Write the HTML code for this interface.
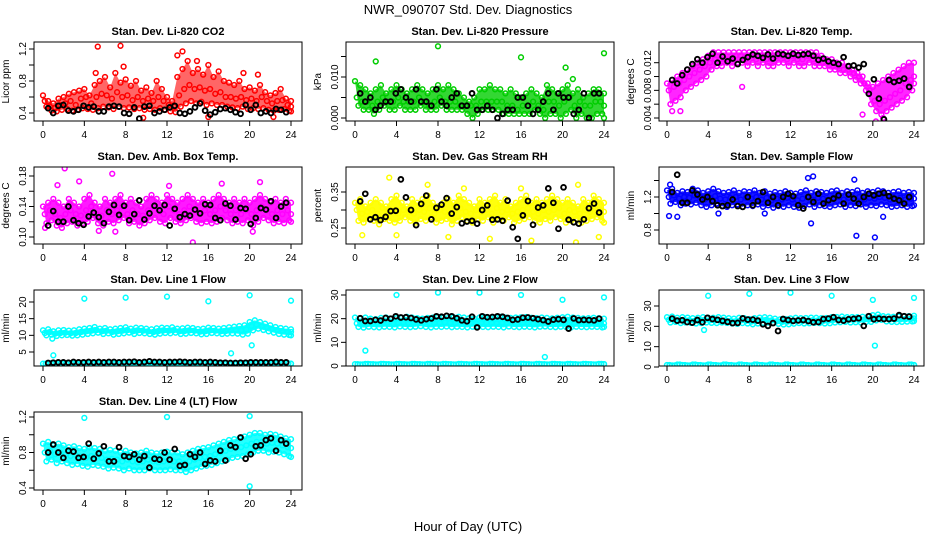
<!DOCTYPE html>
<html><head><meta charset="utf-8"><style>
html,body{margin:0;padding:0;background:#fff}
svg{display:block;font-family:"Liberation Sans",sans-serif}
</style></head><body>
<svg id="chart" width="936" height="540" viewBox="0 0 936 540" xmlns="http://www.w3.org/2000/svg">
<rect width="936" height="540" fill="#fff"/>
<text x="468" y="14" text-anchor="middle" font-size="13">NWR_090707  Std. Dev. Diagnostics</text>
<text x="468" y="531" text-anchor="middle" font-size="13">Hour of Day (UTC)</text>
</svg>
<script>
const xTicks=[0,4,8,12,16,20,24];
const co2Hi=[0.62,0.55,0.52,0.58,0.6,0.64,0.66,0.68,0.7,0.62,0.75,0.8,0.85,0.72,0.9,0.78,0.82,0.74,0.8,0.68,0.72,0.65,0.8,0.7,0.6,0.55,0.85,0.95,1.05,0.9,0.95,0.88,1.0,0.85,0.92,0.8,0.78,0.75,0.8,0.7,0.72,0.68,0.75,0.66,0.62,0.65,0.7,0.58,0.55];
const co2Mid=[0.55,0.48,0.46,0.5,0.52,0.55,0.5,0.58,0.6,0.52,0.6,0.64,0.62,0.58,0.66,0.6,0.62,0.56,0.6,0.55,0.58,0.55,0.6,0.55,0.5,0.48,0.62,0.7,0.75,0.7,0.72,0.68,0.7,0.64,0.66,0.6,0.6,0.58,0.6,0.56,0.58,0.55,0.6,0.55,0.52,0.55,0.56,0.5,0.48];
const co2Lo=[0.48,0.43,0.42,0.44,0.45,0.43,0.44,0.46,0.45,0.44,0.46,0.48,0.47,0.45,0.48,0.46,0.47,0.45,0.46,0.44,0.45,0.44,0.46,0.44,0.42,0.41,0.48,0.52,0.55,0.52,0.54,0.5,0.52,0.5,0.5,0.48,0.47,0.46,0.48,0.45,0.46,0.45,0.46,0.44,0.43,0.44,0.45,0.43,0.42];
const co2OutX=[5.3,7.5,13,13.5,14.9,7.8,5.1,16,22.3,9.7,19.4,20.8];
const co2OutY=[1.23,1.24,1.12,1.17,1.05,0.98,0.9,0.35,0.35,0.34,0.9,0.88];
const co2Blk=[0.46,0.4,0.49,0.5,0.43,0.42,0.44,0.49,0.47,0.48,0.42,0.42,0.48,0.49,0.48,0.4,0.39,0.47,0.33,0.48,0.49,0.4,0.42,0.44,0.47,0.49,0.4,0.39,0.42,0.47,0.52,0.43,0.38,0.41,0.45,0.46,0.44,0.41,0.39,0.5,0.44,0.5,0.4,0.42,0.4,0.45,0.44,0.41];

const prsHi=[0.009,0.008,0.007,0.006,0.007,0.008,0.006,0.007,0.008,0.007,0.006,0.007,0.008,0.007,0.006,0.007,0.008,0.007,0.008,0.007,0.006,0.005,0.004,0.005,0.007,0.007,0.008,0.007,0.007,0.006,0.007,0.006,0.005,0.006,0.007,0.006,0.005,0.008,0.007,0.006,0.007,0.008,0.006,0.007,0.005,0.006,0.007,0.007,0.006];
const prsMid=[0.005,0.004,0.004,0.003,0.004,0.005,0.004,0.004,0.005,0.004,0.004,0.004,0.005,0.004,0.003,0.004,0.005,0.004,0.004,0.004,0.003,0.003,0.003,0.003,0.004,0.004,0.004,0.004,0.004,0.003,0.003,0.002,0.003,0.003,0.004,0.003,0.002,0.004,0.004,0.003,0.004,0.005,0.003,0.004,0.003,0.003,0.004,0.004,0.003];
const prsLo=[0.003,0.002,0.002,0.001,0.002,0.003,0.002,0.002,0.003,0.002,0.002,0.002,0.003,0.002,0.002,0.002,0.003,0.002,0.002,0.002,0.002,0.001,0,0.001,0.002,0.002,0.002,0.002,0.001,0.001,0.001,0.001,0.001,0.001,0.002,0.001,0,0.001,0.001,0,0.001,0.002,0,0.001,0,0,0.001,0.001,0];
const prsOutX=[2,8,16,20.3,21,24];
const prsOutY=[0.0138,0.0175,0.0148,0.0123,0.0095,0.0158];
const prsBlk=[0.006,0.004,0.005,0.002,0.003,0.004,0.004,0.006,0.007,0.005,0.004,0.007,0.004,0.004,0.003,0.007,0.004,0.003,0.005,0.006,0.003,0.003,0.006,0.002,0.002,0.003,0.002,0,0.001,0.002,0.002,0.005,0.005,0.003,0.001,0.002,0.004,0.006,0.002,0.006,0.005,0.005,0.001,0.002,0.006,0,0.006,0.006];

const tmpHi=[0.009,0.0095,0.01,0.0105,0.011,0.0115,0.012,0.0125,0.013,0.0135,0.0135,0.0135,0.0135,0.0135,0.0135,0.0135,0.0135,0.0135,0.0135,0.0135,0.0135,0.0135,0.0135,0.0135,0.0135,0.0135,0.0135,0.0135,0.0135,0.0135,0.013,0.0125,0.0125,0.012,0.012,0.0115,0.011,0.0105,0.01,0.009,0.0085,0.009,0.0095,0.01,0.0105,0.011,0.0115,0.012,0.012];
const tmpMid=[0.008,0.0085,0.009,0.0095,0.01,0.0105,0.011,0.0115,0.012,0.0125,0.0125,0.0125,0.0125,0.013,0.013,0.0125,0.013,0.0125,0.013,0.0125,0.0125,0.013,0.013,0.0125,0.013,0.0125,0.0125,0.013,0.0125,0.0125,0.012,0.012,0.0115,0.0115,0.011,0.011,0.0105,0.01,0.009,0.008,0.0065,0.006,0.0065,0.007,0.0075,0.008,0.009,0.0095,0.01];
const tmpLo=[0.006,0.0065,0.007,0.008,0.0085,0.009,0.0095,0.01,0.011,0.0115,0.0115,0.012,0.0115,0.012,0.012,0.0115,0.012,0.0115,0.012,0.0115,0.0115,0.012,0.012,0.0115,0.012,0.0115,0.0115,0.012,0.0115,0.0115,0.0115,0.011,0.011,0.0105,0.0105,0.01,0.0095,0.009,0.008,0.006,0.005,0.0045,0.005,0.0055,0.006,0.0065,0.007,0.008,0.009];
const tmpOutX=[0.5,1.3,7.3,19,20.3,21];
const tmpOutY=[0.005,0.005,0.0085,0.0045,0.0035,0.004];
const tmpBlk=[0.0095,0.009,0.0102,0.011,0.0118,0.0125,0.012,0.0128,0.0133,0.012,0.0129,0.0122,0.0126,0.0118,0.0124,0.0128,0.0132,0.013,0.0127,0.0132,0.0126,0.0133,0.0132,0.013,0.0133,0.0131,0.0132,0.0133,0.013,0.0124,0.0126,0.0122,0.012,0.0118,0.0128,0.0115,0.0116,0.0113,0.0118,0.0075,0.0096,0.0068,0.0038,0.0095,0.0092,0.0094,0.0097,0.0085];

const ambHi=[0.14,0.145,0.15,0.145,0.14,0.15,0.145,0.14,0.15,0.155,0.145,0.14,0.15,0.145,0.15,0.155,0.145,0.15,0.145,0.14,0.15,0.155,0.15,0.145,0.155,0.15,0.145,0.15,0.155,0.15,0.145,0.15,0.145,0.15,0.155,0.15,0.145,0.15,0.145,0.15,0.145,0.15,0.155,0.15,0.145,0.15,0.145,0.15,0.145];
const ambMid=[0.13,0.135,0.13,0.125,0.13,0.135,0.13,0.128,0.135,0.14,0.13,0.128,0.135,0.13,0.135,0.14,0.13,0.135,0.13,0.128,0.135,0.14,0.135,0.13,0.14,0.135,0.13,0.135,0.14,0.135,0.13,0.135,0.13,0.135,0.14,0.135,0.13,0.135,0.13,0.135,0.13,0.135,0.14,0.135,0.13,0.135,0.13,0.135,0.13];
const ambLo=[0.118,0.122,0.115,0.112,0.118,0.12,0.115,0.118,0.12,0.125,0.118,0.115,0.12,0.118,0.122,0.125,0.118,0.12,0.115,0.118,0.122,0.125,0.12,0.118,0.125,0.12,0.118,0.122,0.125,0.12,0.118,0.12,0.118,0.12,0.125,0.122,0.118,0.12,0.118,0.122,0.115,0.12,0.125,0.122,0.118,0.12,0.118,0.122,0.12];
const ambOutX=[2.1,6.7,3.5,14.5,0.2,5.4,7,20.3,21,17.3,1.4,12.2];
const ambOutY=[0.19,0.183,0.173,0.093,0.112,0.108,0.107,0.107,0.172,0.17,0.168,0.167];
const ambBlk=[0.115,0.134,0.12,0.12,0.14,0.122,0.118,0.116,0.127,0.132,0.126,0.118,0.133,0.142,0.129,0.141,0.122,0.13,0.148,0.123,0.131,0.141,0.135,0.142,0.115,0.137,0.126,0.13,0.128,0.136,0.131,0.143,0.142,0.125,0.122,0.144,0.141,0.123,0.138,0.137,0.117,0.125,0.138,0.136,0.147,0.125,0.14,0.145];

const rhHi=[0.32,0.33,0.31,0.32,0.33,0.32,0.31,0.33,0.34,0.32,0.31,0.33,0.32,0.33,0.34,0.32,0.31,0.32,0.33,0.32,0.34,0.33,0.32,0.31,0.33,0.32,0.33,0.34,0.32,0.33,0.31,0.32,0.33,0.34,0.32,0.33,0.32,0.33,0.34,0.33,0.32,0.33,0.32,0.31,0.33,0.32,0.34,0.33,0.32];
const rhMid=[0.3,0.29,0.295,0.3,0.29,0.305,0.295,0.3,0.29,0.3,0.295,0.29,0.3,0.295,0.305,0.29,0.3,0.295,0.29,0.3,0.305,0.295,0.29,0.3,0.295,0.3,0.29,0.305,0.295,0.3,0.29,0.295,0.3,0.305,0.295,0.29,0.3,0.295,0.3,0.305,0.29,0.3,0.295,0.29,0.3,0.295,0.305,0.3,0.295];
const rhLo=[0.27,0.265,0.275,0.27,0.26,0.275,0.27,0.265,0.27,0.28,0.27,0.265,0.275,0.27,0.28,0.265,0.27,0.275,0.26,0.27,0.28,0.27,0.265,0.275,0.27,0.28,0.265,0.275,0.27,0.28,0.265,0.27,0.275,0.28,0.27,0.265,0.275,0.27,0.28,0.275,0.265,0.27,0.275,0.265,0.27,0.275,0.28,0.27,0.265];
const rhOutX=[3.3,7,10.5,16,21.5,0.7,4,9,13,17,21.3,23.5];
const rhOutY=[0.39,0.37,0.36,0.36,0.37,0.23,0.23,0.225,0.22,0.215,0.21,0.225];
const rhBlk=[0.324,0.345,0.274,0.28,0.272,0.281,0.297,0.298,0.385,0.335,0.3,0.258,0.317,0.34,0.274,0.306,0.315,0.333,0.29,0.308,0.263,0.268,0.27,0.262,0.3,0.313,0.273,0.274,0.27,0.326,0.252,0.22,0.285,0.325,0.259,0.307,0.313,0.36,0.32,0.248,0.363,0.273,0.266,0.262,0.274,0.305,0.318,0.293];

const sfHi=[1.28,1.3,1.25,1.27,1.26,1.3,1.28,1.25,1.27,1.3,1.27,1.25,1.26,1.28,1.25,1.27,1.26,1.28,1.25,1.27,1.24,1.26,1.25,1.27,1.25,1.24,1.26,1.28,1.25,1.27,1.26,1.25,1.27,1.28,1.25,1.27,1.26,1.28,1.25,1.27,1.26,1.28,1.27,1.25,1.26,1.27,1.25,1.26,1.25];
const sfMid=[1.2,1.22,1.18,1.2,1.19,1.22,1.2,1.17,1.19,1.21,1.18,1.17,1.19,1.2,1.17,1.19,1.18,1.2,1.17,1.19,1.16,1.18,1.17,1.19,1.17,1.16,1.18,1.2,1.17,1.19,1.18,1.17,1.19,1.2,1.17,1.19,1.18,1.2,1.17,1.19,1.18,1.2,1.19,1.17,1.18,1.19,1.17,1.18,1.18];
const sfLo=[1.12,1.14,1.1,1.12,1.11,1.13,1.1,1.08,1.1,1.12,1.09,1.08,1.1,1.11,1.08,1.1,1.09,1.11,1.08,1.1,1.07,1.09,1.08,1.1,1.08,1.07,1.09,1.11,1.08,1.1,1.09,1.08,1.1,1.11,1.08,1.1,1.09,1.11,1.08,1.1,1.09,1.11,1.1,1.08,1.09,1.1,1.08,1.09,1.1];
const sfOutX=[0.2,1,5,9.5,14,18.4,20.2,21,14.2,13.7,18.2,0.3];
const sfOutY=[0.97,0.96,1.0,1.0,0.88,0.73,0.71,0.96,1.45,1.43,1.41,1.35];
const sfBlk=[1.26,1.47,1.13,1.13,1.28,1.23,1.17,1.2,1.15,1.1,1.09,1.1,1.17,1.09,1.08,1.2,1.1,1.15,1.26,1.13,1.2,1.1,1.2,1.24,1.21,1.1,1.06,1.2,1.14,1.24,1.12,1.16,1.18,1.22,1.12,1.23,1.18,1.12,1.2,1.24,1.22,1.24,1.25,1.21,1.18,1.16,1.12,1.2];

const l1Hi=[11.5,11.8,11.2,11.5,11.6,11.4,11.5,11.8,12,12.2,12.5,12,12.2,11.8,12,12.2,12.4,12,12.3,12.2,12,11.8,12.1,12.3,12.2,12.4,12,12.1,12.3,12.2,11.9,12,12.3,12.2,12,12.2,12.4,12.6,12.8,13,14,14.5,14,13.5,13,12.5,12.2,12,11.8];
const l1Mid=[10.7,11,10.5,10.7,10.8,10.6,10.7,11,11.2,11.4,11.6,11.2,11.4,11,11.2,11.4,11.6,11.2,11.5,11.4,11.2,11,11.3,11.5,11.4,11.6,11.2,11.3,11.5,11.4,11.1,11.2,11.5,11.4,11.2,11.3,11.5,11.6,11.5,11.8,12.8,13.2,12.8,12.4,12,11.6,11.3,11.1,11];
const l1Lo=[10,10.2,9.8,10,10.1,9.9,10,10.2,10.4,10.6,10.8,10.4,10.6,10.2,10.4,10.6,10.8,10.4,10.7,10.6,10.4,10.2,10.5,10.7,10.6,10.8,10.4,10.5,10.7,10.6,10.3,10.4,10.7,10.6,10.4,10.5,10.6,10.5,10.2,10.5,11.5,12,11.6,11.2,10.8,10.4,10.2,10.1,10];
const l1Base=[1.5,1.6,1.5,1.6,1.5,1.6,1.5,1.6,1.5,1.6,1.5,1.6,1.5,1.6,1.5,1.6,1.5,1.6,1.5,1.6,1.5,1.6,1.5,1.6,1.5,1.6,1.5,1.6,1.5,1.6,1.5,1.6,1.5,1.6,1.5,1.6,1.5,1.6,1.5,1.6,1.5,1.6,1.5,1.6,1.5,1.6,1.5,1.6,1.5];
const l1OutX=[4,8,12,16,20,24,1,18.2,20.2,0.9];
const l1OutY=[21,21.3,21.6,20.2,22,20.4,4,4.6,7,9];
const l1Blk=[1.7,1.8,1.9,1.9,1.8,2,1.9,1.9,2,1.9,2,1.9,2,2,1.9,2,2,2.1,1.9,2,2.2,2,2,1.9,2,2,2.1,2,1.9,2,2,1.9,2,1.9,1.8,1.8,1.7,1.7,1.8,1.8,1.9,1.9,1.9,1.9,1.9,2,1.9,1.9];

const l2Hi=[20.5,20,20.5,20,19.8,20.3,20.5,20,20.2,20.4,20.8,20.5,20.2,20,20.3,20.5,20.7,20.5,20.3,20.6,20.8,20.5,20.2,20,20.5,20.7,20.4,20.6,20.8,20.5,20.3,20.5,20.6,20.7,20.4,20.2,20.5,20.3,20.1,20.4,20.6,20.8,20.5,20.3,20.1,20.2,20.4,20.2,20];
const l2Mid=[18,18.2,17.8,18,18.3,18,18.1,17.9,18.2,18.4,18.1,18,18.2,18.3,18.1,18,18.2,18.4,18.2,18,18.1,18.3,18,17.9,18.2,18.4,18.1,18,18.3,18.2,18,18.1,18.3,18.2,18,18.1,18.3,18.2,18,17.9,18.1,18.3,18.2,18,18.1,18.2,18,17.9,18];
const l2Lo=[16.5,16.2,16.6,16.4,16.3,16.6,16.5,16.3,16.7,16.5,16.4,16.6,16.8,16.5,16.3,16.6,16.5,16.7,16.4,16.6,16.5,16.3,16.6,16.8,16.5,16.4,16.6,16.5,16.3,16.7,16.5,16.4,16.6,16.5,16.3,16.6,16.7,16.5,16.4,16.6,16.5,16.3,16.6,16.5,16.4,16.6,16.5,16.3,16.5];
const l2Base=[0.8,0.7,0.9,0.8,0.7,0.9,0.8,0.7,0.9,0.8,0.7,0.9,0.8,0.7,0.9,0.8,0.7,0.9,0.8,0.7,0.9,0.8,0.7,0.9,0.8,0.7,0.9,0.8,0.7,0.9,0.8,0.7,0.9,0.8,0.7,0.9,0.8,0.7,0.9,0.8,0.7,0.9,0.8,0.7,0.9,0.8,0.7,0.9,0.8];
const l2OutX=[4,8,12,16,20,24,1,18.3];
const l2OutY=[30,31,31,30,28,29,6.5,3.8];
const l2Blk=[20.2,19,19,19.5,19.2,20.3,20,21,20.5,20.6,20.3,19.7,19.3,19.8,20.1,21,20.8,21.2,21,20.2,19.3,18.9,20.8,16.3,21,20.6,20.7,21,20.8,20.3,19.5,19.7,20.4,20.5,20.2,19.8,19.4,18.8,19.6,19.8,19.5,15.8,20.1,19.4,19.5,19.4,19.3,20];

const l3Hi=[24.5,24.8,24.2,24.5,24.3,24,24.2,24.5,24.3,24.2,24.5,24.3,24,23.8,24.2,24,23.6,24,24.3,24.5,24.2,23.8,23.5,23.6,23.9,24.2,24,24.1,24.3,24.2,24,24.1,24.5,24.6,24.8,24.5,24.6,24.5,24.7,24.8,25.5,25.8,25,24.8,24.7,24.8,24.9,25,25.2];
const l3Mid=[23.2,23.5,22.9,23.2,23,22.7,22.9,23.2,23,22.9,23.2,23,22.7,22.5,22.9,22.7,22.3,22.7,23,23.2,22.9,22.5,22.2,22.3,22.6,22.9,22.7,22.8,23,22.9,22.7,22.8,23.2,23.3,23.5,23.2,23.3,23.2,23.4,23.5,24.2,24.5,23.7,23.5,23.4,23.5,23.6,23.7,23.9];
const l3Lo=[21.9,22.2,21.6,21.9,21.7,21.4,21.6,21.9,21.7,21.6,21.9,21.7,21.4,21.2,21.6,21.4,21,21.4,21.7,21.9,21.6,21.2,20.9,21,21.3,21.6,21.4,21.5,21.7,21.6,21.4,21.5,21.9,22,22.2,21.9,22,21.9,22.1,22.2,22.9,23.2,22.4,22.2,22.1,22.2,22.3,22.4,22.6];
const l3Base=[1,0.8,1.2,1,0.8,1.2,1,0.8,1.2,1,0.8,1.2,1,0.8,1.2,1,0.8,1.2,1,0.8,1.2,1,0.8,1.2,1,0.8,1.2,1,0.8,1.2,1,0.8,1.2,1,0.8,1.2,1,0.8,1.2,1,0.8,1.2,1,0.8,1.2,1,0.8,1.2,1];
const l3OutX=[4,8,12,16,20,24,3.6,20.2];
const l3OutY=[35,36,36.5,35,33,34,18.2,10.5];
const l3Blk=[23.8,22.8,23,22.1,21.8,23.1,22,24.2,23.6,23.2,22.7,22.2,21.6,21.7,23.9,23.3,23.3,22.8,21,20.2,21.6,17.7,23.6,23.1,22.7,22.9,23.1,22.6,22,22.1,23.6,23.8,24.5,23.1,22.8,23.5,23.7,24,20.2,25,23.5,23.8,23.6,23.6,23.8,25.5,25,24.8];

const l4Hi=[0.9,0.92,0.88,0.9,0.88,0.86,0.87,0.85,0.84,0.86,0.85,0.84,0.82,0.83,0.82,0.8,0.82,0.8,0.79,0.8,0.82,0.8,0.79,0.8,0.81,0.8,0.8,0.78,0.8,0.82,0.84,0.85,0.86,0.88,0.9,0.92,0.94,0.95,0.96,0.98,1.0,1.02,1.02,1.0,1.01,1.0,0.98,0.96,0.95];
const l4Mid=[0.8,0.82,0.78,0.8,0.78,0.76,0.77,0.75,0.74,0.76,0.75,0.74,0.72,0.73,0.72,0.7,0.72,0.7,0.69,0.7,0.72,0.7,0.69,0.7,0.71,0.7,0.7,0.68,0.7,0.72,0.74,0.75,0.76,0.78,0.8,0.82,0.84,0.85,0.86,0.88,0.9,0.92,0.92,0.9,0.91,0.9,0.88,0.86,0.85];
const l4Lo=[0.7,0.72,0.68,0.7,0.68,0.66,0.67,0.65,0.64,0.66,0.65,0.64,0.62,0.63,0.62,0.6,0.62,0.6,0.6,0.6,0.62,0.6,0.6,0.6,0.61,0.6,0.6,0.58,0.6,0.62,0.64,0.65,0.66,0.68,0.7,0.72,0.74,0.75,0.76,0.78,0.8,0.82,0.82,0.8,0.81,0.8,0.78,0.76,0.75];
const l4OutX=[4,12,20,20];
const l4OutY=[1.19,1.2,1.21,0.42];
const l4Blk=[0.8,0.89,0.8,0.74,0.82,0.81,0.74,0.75,0.9,0.73,0.79,0.87,0.7,0.7,0.86,0.76,0.75,0.78,0.72,0.76,0.63,0.73,0.72,0.8,0.72,0.84,0.65,0.66,0.78,0.75,0.8,0.67,0.71,0.7,0.82,0.71,0.88,0.86,0.97,0.73,0.78,0.87,0.88,0.94,0.96,0.82,0.94,0.9];

const COLS=[{l:34,r:302,x0:43,x1:291},{l:346,r:614,x0:355,x1:604},{l:659,r:924,x0:667,x1:914}];
const ROWS=[{t:42,b:121},{t:167,b:244},{t:290,b:366},{t:412,b:490}];
const panels=[
 {id:'co2',title:'Stan. Dev. Li-820 CO2',ylab:'Licor ppm',color:'#ff0000',r:0,c:0,ya:[0.4,113,1.2,49],ticks:[0.4,0.6,0.8,1.0,1.2],labels:['0.4','','0.8','','1.2'],hi:co2Hi,mid:co2Mid,lo:co2Lo,ox:co2OutX,oy:co2OutY,blk:co2Blk,band:0.6},
 {id:'pressure',title:'Stan. Dev. Li-820 Pressure',ylab:'kPa',color:'#00cd00',r:0,c:1,ya:[0,118,0.01,77],ticks:[0,0.005,0.01,0.015],labels:['0.000','','0.010',''],hi:prsHi,mid:prsMid,lo:prsLo,ox:prsOutX,oy:prsOutY,blk:prsBlk,band:0.8},
 {id:'temp',title:'Stan. Dev. Li-820 Temp.',ylab:'degrees C',color:'#ff00ff',r:0,c:2,ya:[0.004,118,0.012,62.7],ticks:[0.004,0.006,0.008,0.01,0.012],labels:['0.004','','0.008','','0.012'],hi:tmpHi,mid:tmpMid,lo:tmpLo,ox:tmpOutX,oy:tmpOutY,blk:tmpBlk,band:0.85},
 {id:'amb',title:'Stan. Dev. Amb. Box Temp.',ylab:'degrees C',color:'#ff00ff',r:1,c:0,ya:[0.10,237,0.18,176],ticks:[0.10,0.12,0.14,0.16,0.18],labels:['0.10','','0.14','','0.18'],hi:ambHi,mid:ambMid,lo:ambLo,ox:ambOutX,oy:ambOutY,blk:ambBlk,band:0.9},
 {id:'rh',title:'Stan. Dev. Gas Stream RH',ylab:'percent',color:'#ffff00',r:1,c:1,ya:[0.25,228,0.35,192],ticks:[0.25,0.30,0.35],labels:['0.25','','0.35'],hi:rhHi,mid:rhMid,lo:rhLo,ox:rhOutX,oy:rhOutY,blk:rhBlk,band:0.95},
 {id:'sampleflow',title:'Stan. Dev. Sample Flow',ylab:'ml/min',color:'#0000ff',r:1,c:2,ya:[0.8,230,1.2,197],ticks:[0.8,1.0,1.2,1.4],labels:['0.8','','1.2',''],hi:sfHi,mid:sfMid,lo:sfLo,ox:sfOutX,oy:sfOutY,blk:sfBlk,band:0.9},
 {id:'line1',title:'Stan. Dev. Line 1 Flow',ylab:'ml/min',color:'#00ffff',r:2,c:0,ya:[5,352,20,302],ticks:[5,10,15,20],labels:['5','10','15','20'],hi:l1Hi,mid:l1Mid,lo:l1Lo,base:l1Base,ox:l1OutX,oy:l1OutY,blk:l1Blk,band:0.95},
 {id:'line2',title:'Stan. Dev. Line 2 Flow',ylab:'ml/min',color:'#00ffff',r:2,c:1,ya:[0,366,30,295],ticks:[0,10,20,30],labels:['0','10','20','30'],hi:l2Hi,mid:l2Mid,lo:l2Lo,base:l2Base,ox:l2OutX,oy:l2OutY,blk:l2Blk,band:0.95},
 {id:'line3',title:'Stan. Dev. Line 3 Flow',ylab:'ml/min',color:'#00ffff',r:2,c:2,ya:[0,367,30,306],ticks:[0,10,20,30],labels:['0','10','20','30'],hi:l3Hi,mid:l3Mid,lo:l3Lo,base:l3Base,ox:l3OutX,oy:l3OutY,blk:l3Blk,band:0.95},
 {id:'line4',title:'Stan. Dev. Line 4 (LT) Flow',ylab:'ml/min',color:'#00ffff',r:3,c:0,ya:[0.4,488,1.2,417],ticks:[0.4,0.6,0.8,1.0,1.2],labels:['0.4','','0.8','','1.2'],hi:l4Hi,mid:l4Mid,lo:l4Lo,ox:l4OutX,oy:l4OutY,blk:l4Blk,band:0.85}
];
const NS='http://www.w3.org/2000/svg';
const svg=document.getElementById('chart');
function mk(tag,attrs,parent){const e=document.createElementNS(NS,tag);for(const k in attrs)e.setAttribute(k,attrs[k]);(parent||svg).appendChild(e);return e;}
panels.forEach(p=>{
 const C=COLS[p.c],R=ROWS[p.r];
 const sx=v=>C.x0+(C.x1-C.x0)*v/24;
 const sy=v=>p.ya[1]+(p.ya[3]-p.ya[1])*(v-p.ya[0])/(p.ya[2]-p.ya[0]);
 const g=mk('g',{});
 
 
 const cid='clip-'+p.id;
 const cp=mk('clipPath',{id:cid},g);mk('rect',{x:C.l,y:R.t,width:C.r-C.l,height:R.b-R.t},cp);
 const t=mk('text',{x:(C.l+C.r)/2,y:R.t-7,'text-anchor':'middle','font-size':'11','font-weight':'bold'},g);t.textContent=p.title;
 
 
 const yl=mk('text',{transform:`translate(${C.l-25},${(R.t+R.b)/2}) rotate(-90)`,'text-anchor':'middle','font-size':'10'},g);yl.textContent=p.ylab;
 
 
 const data=mk('g',{'clip-path':`url(#${cid})`},g);
 
 
 const ts=i=>Math.min(24,i*0.5);
 let pts=[];
 p.hi.forEach((v,i)=>pts.push(sx(ts(i))+','+sy(v)));
 for(let i=p.lo.length-1;i>=0;i--)pts.push(sx(Math.min(24,i*0.5+0.33))+','+sy(p.lo[i]));
 const band=mk('polygon',{points:pts.join(' '),fill:p.color,'fill-opacity':p.band,stroke:'none'},data);
 
 
 const dot=(x,y,col,name,w)=>{const c=mk('circle',{cx:x,cy:y,r:2.4,fill:'none',stroke:col,'stroke-width':w},data);
  
  };
 const series=[[p.hi,0],[p.mid,0.17],[p.lo,0.33]];
 if(p.base)series.push([p.base,0],[p.base,0.25]);
 series.forEach(([arr,off])=>arr.forEach((v,i)=>dot(sx(Math.min(24,i*0.5+off)),sy(v),p.color,'point',1.5)));
 p.ox.forEach((x,i)=>dot(sx(x),sy(p.oy[i]),p.color,'outlier-point',1.5));
 p.blk.forEach((v,i)=>dot(sx(0.5+i*0.49),sy(v),'#000','reference-point',1.9));
 const box=mk('rect',{x:C.l,y:R.t,width:C.r-C.l,height:R.b-R.t,fill:'none',stroke:'#000','stroke-width':1},g);
 
 
 xTicks.forEach(v=>{mk('line',{x1:sx(v),x2:sx(v),y1:R.b,y2:R.b+5,stroke:'#000'},g);
  const tl=mk('text',{x:sx(v),y:R.b+17,'text-anchor':'middle','font-size':'10'},g);tl.textContent=v;
  
  });
 p.ticks.forEach((v,i)=>{mk('line',{x1:C.l-5,x2:C.l,y1:sy(v),y2:sy(v),stroke:'#000'},g);
  if(p.labels[i]){const tl=mk('text',{transform:`translate(${C.l-8},${sy(v)}) rotate(-90)`,'text-anchor':'middle','font-size':'10'},g);tl.textContent=p.labels[i];
  
  }});
});
</script>
</body></html>
